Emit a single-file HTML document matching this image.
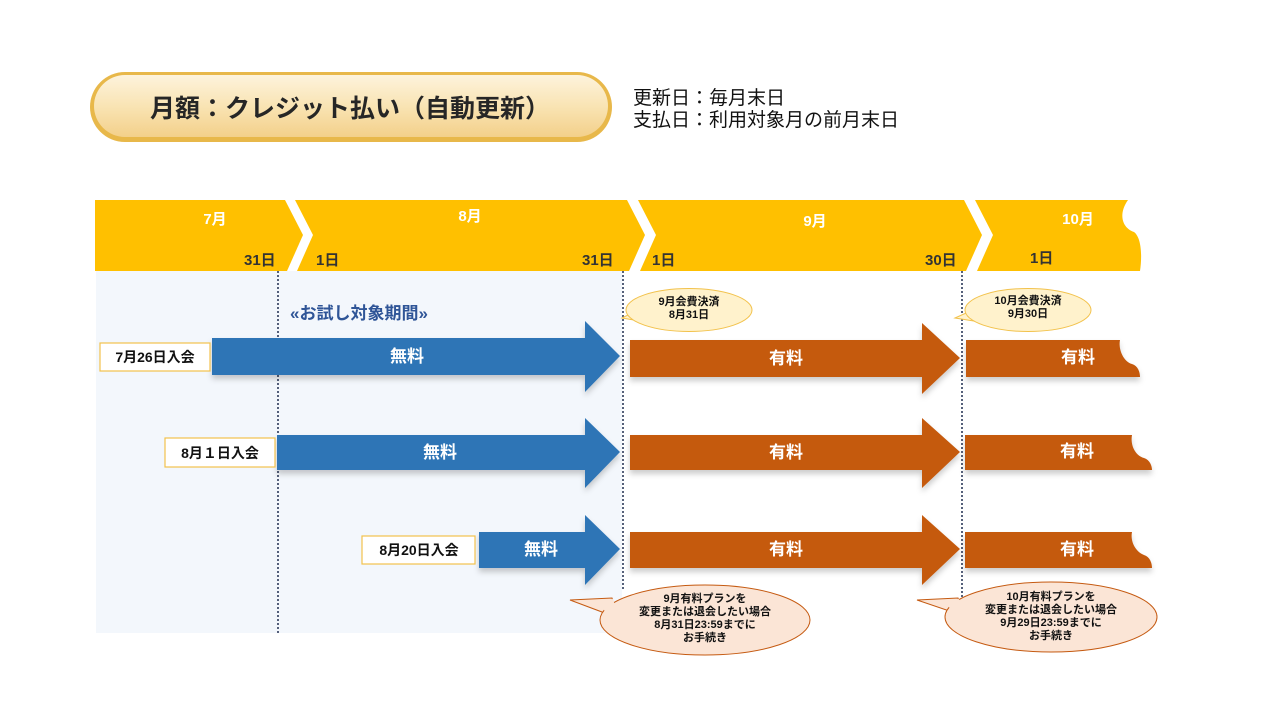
<!DOCTYPE html>
<html><head><meta charset="utf-8"><style>
html,body{margin:0;padding:0;background:#fff;}
svg{display:block;font-family:"Liberation Sans","Noto Sans CJK JP",sans-serif;}
.b{font-weight:bold;}
</style></head><body>
<svg width="1280" height="720" viewBox="0 0 1280 720" xmlns="http://www.w3.org/2000/svg">
<defs>
<linearGradient id="pill" x1="0" y1="0" x2="0" y2="1">
<stop offset="0" stop-color="#fdf3dc"/><stop offset="0.5" stop-color="#f9e4b4"/><stop offset="1" stop-color="#f3d08a"/>
</linearGradient>
<filter id="sh" x="-5%" y="-20%" width="110%" height="150%"><feDropShadow dx="0" dy="4" stdDeviation="3" flood-color="#000" flood-opacity="0.2"/></filter>
</defs>

<!-- title -->
<rect x="90" y="72" width="522" height="70" rx="35" fill="#e8b84a"/>
<rect x="94" y="75" width="514" height="62" rx="31" fill="url(#pill)"/>
<text x="350" y="117" text-anchor="middle" font-size="25" class="b" fill="#262626">月額：クレジット払い（自動更新）</text>
<text x="633" y="104" font-size="19" fill="#111">更新日：毎月末日</text>
<text x="633" y="126" font-size="19" fill="#111">支払日：利用対象月の前月末日</text>

<!-- background -->
<rect x="96" y="271" width="526" height="362" fill="#f3f7fc"/>

<!-- header band -->
<g fill="#ffc000">
<polygon points="95,200 285,200 303,235 287,271 95,271"/>
<polygon points="295,200 627,200 645,235 629,271 297,271 313,235"/>
<polygon points="638,200 964,200 982,235 966,271 640,271 656,235"/>
<path d="M975,200 L1128,200 C1118,214 1122,228 1134,232 C1142,238 1142,258 1140,271 L977,271 L993,235 Z"/>
</g>
<g class="b" font-size="15" fill="#fff" text-anchor="middle">
<text x="215" y="224">7月</text><text x="470" y="221">8月</text><text x="815" y="226">9月</text><text x="1078" y="224">10月</text>
</g>
<g class="b" font-size="15" fill="#333">
<text x="244" y="265">31日</text><text x="316" y="265">1日</text><text x="582" y="265">31日</text><text x="652" y="265">1日</text><text x="925" y="265">30日</text><text x="1030" y="263">1日</text>
</g>

<!-- dotted lines -->
<g stroke="#1f2d4f" stroke-width="1.5" stroke-dasharray="2,2">
<line x1="278" y1="271" x2="278" y2="635"/>
<line x1="623" y1="271" x2="623" y2="590"/>
<line x1="962" y1="271" x2="962" y2="600"/>
</g>

<text x="290" y="319" class="b" font-size="17" fill="#2f5597">«お試し対象期間»</text>

<!-- arrows -->
<g filter="url(#sh)">
<polygon fill="#2e75b6" points="212,338 585,338 585,321 620,356 585,392 585,375 212,375"/>
<polygon fill="#2e75b6" points="277,435 585,435 585,418 620,452 585,488 585,470 277,470"/>
<polygon fill="#2e75b6" points="479,532 585,532 585,515 620,549 585,585 585,568 479,568"/>
<polygon fill="#c55a11" points="630,340 922,340 922,323 960,358 922,394 922,377 630,377"/>
<polygon fill="#c55a11" points="630,435 922,435 922,418 960,452 922,488 922,470 630,470"/>
<polygon fill="#c55a11" points="630,532 922,532 922,515 960,549 922,585 922,568 630,568"/>
<path fill="#c55a11" d="M966,340 L1120,340 C1118,350 1124,362 1132,364 C1138,366 1140,372 1140,377 L966,377 Z"/>
<path fill="#c55a11" d="M965,435 L1132,435 C1130,446 1136,456 1144,458 C1150,460 1152,466 1152,470 L965,470 Z"/>
<path fill="#c55a11" d="M965,532 L1132,532 C1130,542 1136,552 1144,555 C1150,557 1152,563 1152,568 L965,568 Z"/>
</g>
<g class="b" font-size="17" fill="#fff" text-anchor="middle">
<text x="407" y="362">無料</text><text x="440" y="458">無料</text><text x="541" y="555">無料</text>
<text x="786" y="364">有料</text><text x="786" y="458">有料</text><text x="786" y="555">有料</text>
<text x="1078" y="363">有料</text><text x="1077" y="457">有料</text><text x="1077" y="555">有料</text>
</g>

<!-- labels -->
<g fill="#fff" stroke="#f2c24c" stroke-width="1.2">
<rect x="100" y="343" width="110" height="28"/>
<rect x="165" y="438" width="110" height="29"/>
<rect x="362" y="536" width="113" height="28"/>
</g>
<g class="b" font-size="14" fill="#111" text-anchor="middle">
<text x="155" y="362">7月26日入会</text><text x="220" y="458">8月１日入会</text><text x="419" y="555">8月20日入会</text>
</g>

<!-- yellow callouts -->
<g fill="#fff2cc" stroke="#f2c24c" stroke-width="1">
<polygon points="622,318 640,309 646,322"/>
<ellipse cx="689" cy="310" rx="63" ry="21.5"/>
<polygon points="955,318 975,309 980,322"/>
<ellipse cx="1028" cy="310" rx="63" ry="21.5"/>
</g>
<g fill="#fff2cc"><polygon points="634,312 642,310 646,320 636,318"/><polygon points="968,312 976,310 980,320 970,318"/></g>
<g class="b" font-size="11" fill="#111" text-anchor="middle">
<text x="689" y="305">9月会費決済</text><text x="689" y="318">8月31日</text>
<text x="1028" y="304">10月会費決済</text><text x="1028" y="317">9月30日</text>
</g>

<!-- orange callouts -->
<g fill="#fbe5d6" stroke="#c55a11" stroke-width="1">
<polygon points="570,600 612,598 618,618"/>
<ellipse cx="705" cy="620" rx="105" ry="35"/>
<polygon points="917,600 958,598 964,616"/>
<ellipse cx="1051" cy="617" rx="106" ry="35"/>
</g>
<g fill="#fbe5d6"><polygon points="600,601 613,599 618,616 605,612"/><polygon points="946,601 959,599 964,614 951,611"/></g>
<g class="b" font-size="11" fill="#111" text-anchor="middle">
<text x="705" y="602">9月有料プランを</text><text x="705" y="615">変更または退会したい場合</text><text x="705" y="628">8月31日23:59までに</text><text x="705" y="641">お手続き</text>
<text x="1051" y="600">10月有料プランを</text><text x="1051" y="613">変更または退会したい場合</text><text x="1051" y="626">9月29日23:59までに</text><text x="1051" y="639">お手続き</text>
</g>
</svg>
</body></html>
